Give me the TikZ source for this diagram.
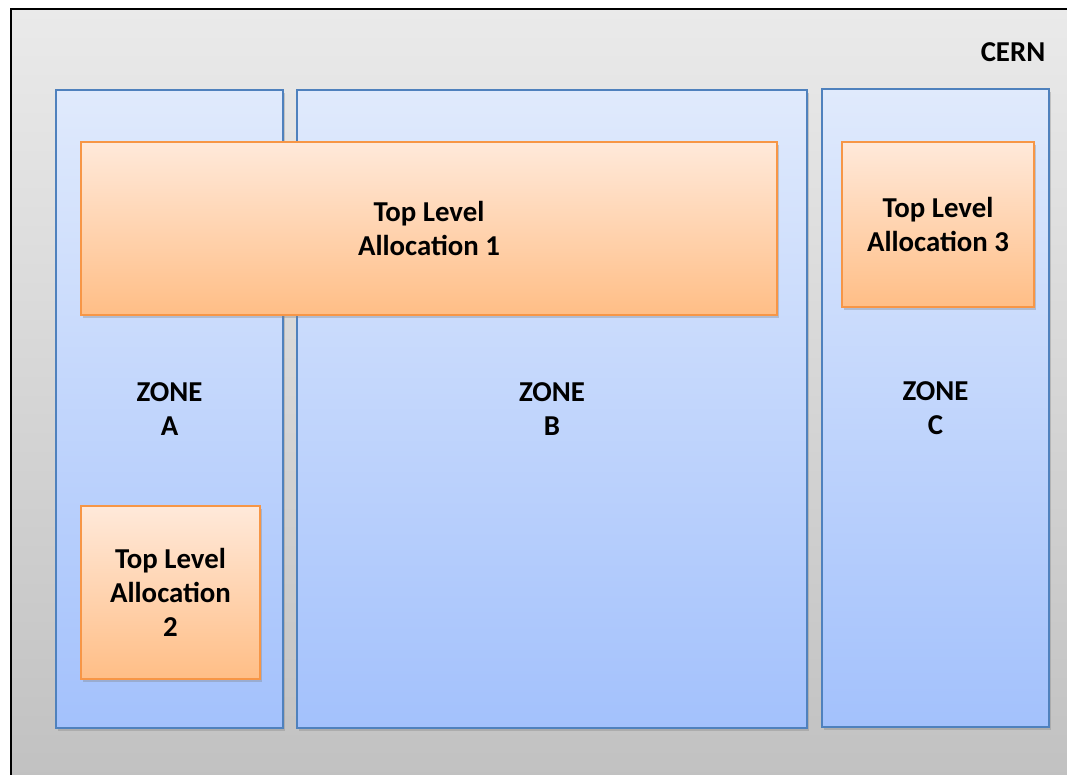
\documentclass[tikz,border=0pt]{standalone}
\usepackage{fontspec}
\setmainfont{Carlito}
\usetikzlibrary{shadows}
\definecolor{frametop}{HTML}{EAEAEA}
\definecolor{framebot}{HTML}{C0C0C0}
\definecolor{zonetop}{HTML}{E0EAFC}
\definecolor{zonebot}{HTML}{A3C1FC}
\definecolor{zoneline}{HTML}{4F81BD}
\definecolor{alloctop}{HTML}{FFE9DA}
\definecolor{allocbot}{HTML}{FFBE86}
\definecolor{allocline}{HTML}{F79646}

\begin{document}
\begin{tikzpicture}[
  zone/.style={draw=zoneline, line width=1.4pt, rectangle, top color=zonetop, bottom color=zonebot,
               minimum width=5.675cm, minimum height=15.95cm, inner sep=0pt, align=center,
               font=\fontsize{20.5}{24.4}\selectfont\bfseries,
               drop shadow={shadow xshift=0.04cm, shadow yshift=-0.08cm, opacity=0.35}},
  alloc/.style={draw=allocline, line width=1.4pt, rectangle, top color=alloctop, bottom color=allocbot,
                inner sep=0pt, align=center, font=\fontsize{20.5}{24.4}\selectfont\bfseries,
                drop shadow={shadow xshift=0.04cm, shadow yshift=-0.08cm, opacity=0.35}}
]
\clip (0,0) rectangle (26.675,-19.375);
\fill[white] (0,0) rectangle (26.675,-19.375);
\draw[line width=1.4pt, top color=frametop, bottom color=framebot] (0.275,-0.225) rectangle (27.2,-20);
\node[font=\fontsize{20.5}{24.4}\selectfont\bfseries] (cern) at (25.325,-1.3) {CERN};
\node[zone] (zonea) at (4.2375,-10.225)  {ZONE\\A};
\node[zone, minimum width=12.75cm] (zoneb) at (13.8,-10.225) {ZONE\\B};
\node[zone] (zonec) at (23.3875,-10.2)   {ZONE\\C};
\node[alloc, minimum width=17.4cm, minimum height=4.325cm] (tla1) at (10.725,-5.7125) {Top Level\\Allocation 1};
\node[alloc, minimum width=4.8cm, minimum height=4.125cm]  (tla3) at (23.45,-5.6125)  {Top Level\\Allocation 3};
\node[alloc, minimum width=4.475cm, minimum height=4.325cm] (tla2) at (4.2625,-14.8125) {Top Level\\Allocation\\2};
\end{tikzpicture}
\end{document}
